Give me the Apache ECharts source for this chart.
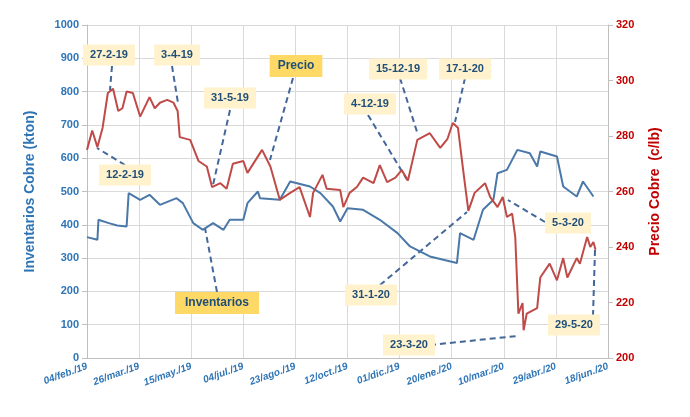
<!DOCTYPE html>
<html><head><meta charset="utf-8">
<script src="https://cdn.jsdelivr.net/npm/echarts@6/dist/echarts.min.js"></script>
<style>html,body{margin:0;padding:0;background:#fff}#c{width:690px;height:417px}</style>
</head><body><div id="c"></div>
<script>
const invDates=["2019-02-04","2019-02-14","2019-02-15","2019-02-25","2019-03-05","2019-03-14","2019-03-16","2019-03-27","2019-04-05","2019-04-15","2019-05-01","2019-05-07","2019-05-17","2019-05-26","2019-06-05","2019-06-15","2019-06-21","2019-07-04","2019-07-08","2019-07-18","2019-07-20","2019-08-08","2019-08-18","2019-09-06","2019-09-16","2019-09-28","2019-10-05","2019-10-12","2019-10-27","2019-11-12","2019-11-29","2019-12-11","2019-12-30","2020-01-25","2020-01-28","2020-02-10","2020-02-19","2020-02-29","2020-03-04","2020-03-13","2020-03-23","2020-04-04","2020-04-11","2020-04-14","2020-04-30","2020-05-06","2020-05-19","2020-05-25","2020-06-04"];
const invValues=[363,355,415,405,398,395,495,475,490,460,480,465,405,385,405,385,415,415,465,500,480,475,530,515,495,455,410,450,445,415,375,335,305,285,375,355,445,475,555,565,625,615,575,620,605,515,485,530,485];
const priceDates=["2019-02-04","2019-02-09","2019-02-14","2019-02-19","2019-02-24","2019-03-01","2019-03-06","2019-03-10","2019-03-14","2019-03-20","2019-03-27","2019-04-05","2019-04-10","2019-04-15","2019-04-22","2019-04-28","2019-05-02","2019-05-04","2019-05-14","2019-05-22","2019-05-30","2019-06-04","2019-06-12","2019-06-18","2019-06-24","2019-07-04","2019-07-08","2019-07-22","2019-07-30","2019-08-08","2019-08-18","2019-08-27","2019-09-06","2019-09-09","2019-09-18","2019-09-22","2019-10-05","2019-10-08","2019-10-14","2019-10-21","2019-10-27","2019-11-06","2019-11-12","2019-11-19","2019-11-27","2019-12-03","2019-12-09","2019-12-18","2019-12-30","2020-01-09","2020-01-16","2020-01-21","2020-01-26","2020-01-31","2020-02-05","2020-02-11","2020-02-21","2020-02-26","2020-03-04","2020-03-09","2020-03-13","2020-03-18","2020-03-21","2020-03-24","2020-03-28","2020-03-29","2020-04-01","2020-04-11","2020-04-14","2020-04-23","2020-04-30","2020-05-06","2020-05-10","2020-05-19","2020-05-22","2020-05-29","2020-06-01","2020-06-04","2020-06-06"];
const priceValues=[275,282,276,283,295.5,297,289,290,296,295.5,287,294,290,292,293,292,289,279.6,278.6,271,269,261.6,263,261,270,271,266.7,275,269,257,259.5,261.6,250.8,259.5,266,261,260.5,254.4,259.5,261.6,265,263,269.5,263.4,265,267.7,264,278.6,281,275.7,279,284.7,283,267.7,253,259.5,263,258,254.4,258,250.8,252,243.6,216,219.8,210,216,218,229,234,228,236,229,236,234,243.6,240,241.8,239];
const xStart="2019-02-04", xEnd="2020-06-18";
const months=["ene.","feb.","mar.","abr.","may.","jun.","jul.","ago.","sep.","oct.","nov.","dic."];
const labels=[["27-2-19",109,55],["3-4-19",177,55],["31-5-19",230,98],["12-2-19",125,175],["4-12-19",370,104],["15-12-19",398,69],["17-1-20",465,69],["5-3-20",568,223],["31-1-20",371,295],["23-3-20",409,345],["29-5-20",574,325]];
const leaders=[[112,66,110,90],[172,66,178,103],[230,110,213,185],[293,78,270,160],[125,165,97,148],[368,115,409,183],[400,78,418,135],[465,78,455,122],[545,222,508,200],[380,285,467,212],[430,345,517,336],[593,316,595,250],[217,292,205,228]];

const t=s=>Date.parse(s+"T00:00:00Z");
const DAY=86400000;
const inv=invDates.map((d,i)=>[t(d),invValues[i]]);
const pr=priceDates.map((d,i)=>[t(d),priceValues[i]]);
const graphics=[];
leaders.forEach(l=>graphics.push({type:'line',shape:{x1:l[0],y1:l[1],x2:l[2],y2:l[3]},style:{stroke:'#44679A',lineWidth:2,lineDash:[6,4]},z:1}));
labels.forEach(l=>graphics.push({type:'text',x:l[1],y:l[2],style:{text:l[0],fill:'#1F4E79',font:'bold 11px Arial, Liberation Sans',align:'center',verticalAlign:'middle',backgroundColor:'#FFF2CC',padding:[5,7]},z:2}));
graphics.push({type:'text',x:296,y:66,style:{text:'Precio',fill:'#1F4E79',font:'bold 12px Arial, Liberation Sans',align:'center',verticalAlign:'middle',backgroundColor:'#FFD966',padding:[5,8]},z:2});
graphics.push({type:'text',x:217,y:303,style:{text:'Inventarios',fill:'#1F4E79',font:'bold 12px Arial, Liberation Sans',align:'center',verticalAlign:'middle',backgroundColor:'#FFD966',padding:[5,10]},z:2});

const ch=echarts.init(document.getElementById('c'));
ch.setOption({
 animation:false,
 grid:{left:87,right:82,top:25,bottom:59},
 xAxis:{type:'value',min:t(xStart),max:t(xEnd),interval:50*DAY,
  axisLine:{lineStyle:{color:'#BFBFBF'}},axisTick:{show:false},
  splitLine:{show:true,lineStyle:{color:'#D9D9D9'}},
  axisLabel:{rotate:20,color:'#2E75B6',fontWeight:'bold',fontStyle:'italic',fontSize:10,fontFamily:'Arial',margin:8,
   formatter:v=>{const d=new Date(v);return String(d.getUTCDate()).padStart(2,'0')+'/'+months[d.getUTCMonth()]+'/'+String(d.getUTCFullYear()).slice(2);}}},
 yAxis:[
  {type:'value',min:0,max:1000,interval:100,name:'Inventarios Cobre (kton)',nameLocation:'middle',nameGap:50,
   nameTextStyle:{color:'#2E75B6',fontWeight:'bold',fontSize:14,fontFamily:'Arial'},
   axisLine:{show:true,lineStyle:{color:'#BFBFBF'}},splitLine:{lineStyle:{color:'#D9D9D9'}},
   axisLabel:{color:'#2E75B6',fontWeight:'bold',fontSize:11,fontFamily:'Arial',formatter:v=>String(v)}},
  {type:'value',min:200,max:320,interval:20,name:'Precio Cobre  (c/lb)',nameLocation:'middle',nameGap:40,nameRotate:90,
   nameTextStyle:{color:'#C00000',fontWeight:'bold',fontSize:14,fontFamily:'Arial'},
   axisLine:{show:true,lineStyle:{color:'#BFBFBF'}},splitLine:{show:false},
   axisLabel:{color:'#C00000',fontWeight:'bold',fontSize:11,fontFamily:'Arial'}}
 ],
 series:[
  {type:'line',data:inv,showSymbol:false,lineStyle:{color:'#4A78A8',width:2},yAxisIndex:0},
  {type:'line',data:pr,showSymbol:false,lineStyle:{color:'#BE4B48',width:2},yAxisIndex:1}
 ],
 graphic:graphics
});
</script></body></html>
